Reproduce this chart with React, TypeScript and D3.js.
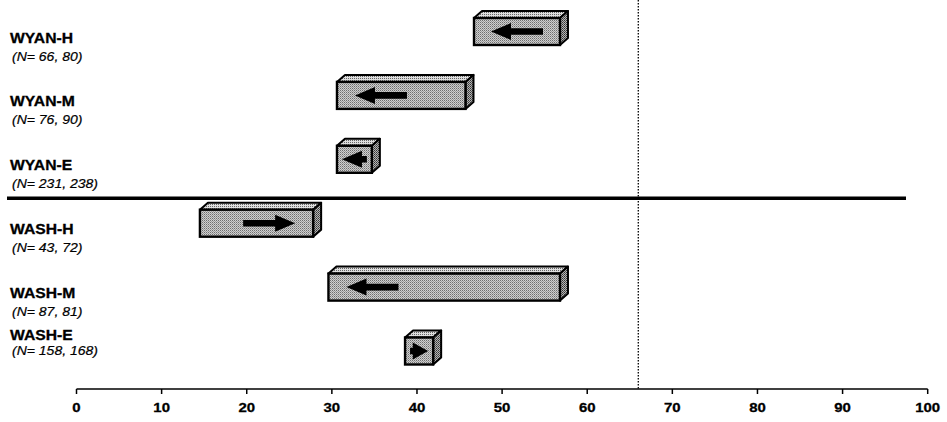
import React from "react";
import * as d3 from "d3";

const categories = ["WYAN-H", "WYAN-M", "WYAN-E", "WASH-H", "WASH-M", "WASH-E"];
const sampleLabels = ["(N= 66, 80)", "(N= 76, 90)", "(N= 231, 238)", "(N= 43, 72)", "(N= 87, 81)", "(N= 158, 168)"];
const startValues = [56.8, 45.7, 34.7, 14.5, 56.8, 38.6];
const endValues = [46.7, 30.6, 30.6, 27.8, 29.6, 41.9];
const tickValues = [0, 10, 20, 30, 40, 50, 60, 70, 80, 90, 100];
const referenceValue = 66;
const groupBreakAfter = 2;

const W = 947;
const H = 422;
const AXIS_Y = 389;
const FACE_H = 27;
const DX = 8;
const DY = -7;
const FONT = "'Liberation Sans', Arial, Helvetica, sans-serif";

export default function App() {
  const x = d3.scaleLinear().domain([0, 100]).range([76.5, 927.7]);
  const y = d3.scalePoint<string>().domain(categories).range([31.5, 351]);

  const sepY = ((y(categories[groupBreakAfter]) as number) + (y(categories[groupBreakAfter + 1]) as number)) / 2 + 7;

  return (
    <svg
      width={W}
      height={H}
      style={{ position: "absolute", left: 0, top: 0, background: "#fff" }}
      fontFamily={FONT}
    >
      <defs>
        <pattern id="front" width="2" height="2" patternUnits="userSpaceOnUse">
          <rect width="2" height="2" fill="#cfcfcf" />
          <rect x="0" y="0" width="1" height="1" fill="#6e6e6e" />
          <rect x="1" y="1" width="1" height="1" fill="#9a9a9a" />
        </pattern>
        <pattern id="top" width="2" height="2" patternUnits="userSpaceOnUse">
          <rect width="2" height="2" fill="#dedede" />
          <rect x="0" y="0" width="1" height="1" fill="#666" />
        </pattern>
        <pattern id="side" width="2" height="2" patternUnits="userSpaceOnUse">
          <rect width="2" height="2" fill="#b5b5b5" />
          <rect x="0" y="0" width="1" height="1" fill="#333" />
          <rect x="1" y="1" width="1" height="1" fill="#555" />
        </pattern>
      </defs>

      {/* reference dotted line */}
      <line
        x1={x(referenceValue)}
        x2={x(referenceValue)}
        y1={0}
        y2={AXIS_Y}
        stroke="#000"
        strokeWidth={1.3}
        strokeDasharray="1.5,1.5"
      />

      {/* group separator */}
      <line x1={7} x2={906} y1={sepY} y2={sepY} stroke="#000" strokeWidth={3.5} />

      {/* bars */}
      {categories.map((c, i) => {
        const cy = y(c) as number;
        const s = startValues[i];
        const e = endValues[i];
        const x0 = x(Math.min(s, e));
        const x1 = x(Math.max(s, e));
        const top = cy - FACE_H / 2;
        const bot = cy + FACE_H / 2;
        const w = x1 - x0;
        const L = Math.min(52, w - 10);
        const inset = Math.min(18, (w - L) / 2);
        const headLen = Math.min(20, L * 0.85);
        const headHalf = 8.5;
        const shaftHalf = 3.3;
        const right = e > s;
        const dir = right ? 1 : -1;
        const tip = right ? x1 - inset : x0 + inset;
        const tail = tip - dir * L;
        const hb = tip - dir * headLen;
        const pts: [number, number][] = [
          [tail, cy - shaftHalf],
          [hb, cy - shaftHalf],
          [hb, cy - headHalf],
          [tip, cy],
          [hb, cy + headHalf],
          [hb, cy + shaftHalf],
          [tail, cy + shaftHalf],
        ];
        const line = d3.line();
        return (
          <g key={c}>
            <path
              d={line([[x0, top], [x0 + DX, top + DY], [x1 + DX, top + DY], [x1, top]]) + "Z"}
              fill="url(#top)"
              stroke="#000"
              strokeWidth={2}
              strokeLinejoin="round"
            />
            <path
              d={line([[x1, top], [x1 + DX, top + DY], [x1 + DX, bot + DY], [x1, bot]]) + "Z"}
              fill="url(#side)"
              stroke="#000"
              strokeWidth={2}
              strokeLinejoin="round"
            />
            <rect x={x0} y={top} width={w} height={FACE_H} fill="url(#front)" stroke="#000" strokeWidth={2.4} />
            <path d={line(pts) + "Z"} fill="#000" />
          </g>
        );
      })}

      {/* row labels */}
      {categories.map((c, i) => {
        const cy = y(c) as number;
        const ly = Math.min(cy + 11, AXIS_Y - 49);
        const ny = Math.min(ly + 18, AXIS_Y - 34);
        return (
          <g key={"lab" + c}>
            <g transform={`translate(10,${ly}) scale(1.12,1)`}>
              <text fontSize={14} fontWeight="bold" fill="#000" stroke="#000" strokeWidth={0.3}>
                {c}
              </text>
            </g>
            <g transform={`translate(12,${ny}) scale(1.12,1)`}>
              <text fontSize={12.5} fontStyle="italic" fill="#000" stroke="#000" strokeWidth={0.2}>
                {sampleLabels[i]}
              </text>
            </g>
          </g>
        );
      })}

      {/* x axis */}
      <line x1={x(0)} x2={x(100)} y1={AXIS_Y} y2={AXIS_Y} stroke="#000" strokeWidth={1.5} />
      {tickValues.map((t) => (
        <g key={"t" + t}>
          <line x1={x(t)} x2={x(t)} y1={AXIS_Y} y2={AXIS_Y + 5} stroke="#000" strokeWidth={1.5} />
          <g transform={`translate(${x(t)},${AXIS_Y + 23}) scale(1.15,1)`}>
            <text fontSize={13} fontWeight="bold" textAnchor="middle" fill="#000" stroke="#000" strokeWidth={0.3}>
              {t}
            </text>
          </g>
        </g>
      ))}
    </svg>
  );
}
